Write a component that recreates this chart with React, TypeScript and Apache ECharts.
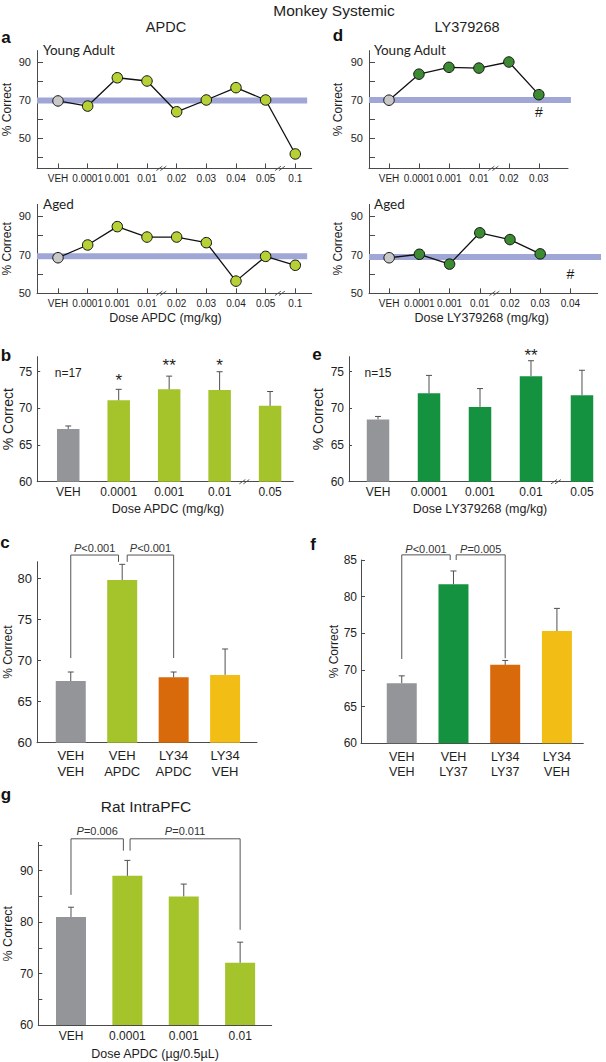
import React, { useEffect, useRef } from 'react';
import * as echarts from 'echarts';

// ---------------- data ----------------
const apdcLineDoses = ['VEH', '0.0001', '0.001', '0.01', '0.02', '0.03', '0.04', '0.05', '0.1'];
const apdcYoungAdult = [69.5, 66.8, 81.7, 80.0, 63.8, 70.0, 76.5, 70.0, 41.6];
const apdcAged = [68.4, 75.0, 84.5, 79.1, 79.1, 76.2, 56.3, 69.1, 64.5];
const apdcYoungBaseline = 69.7;
const apdcAgedBaseline = 69.2;

const lyLineDosesYoung = ['VEH', '0.0001', '0.001', '0.01', '0.02', '0.03'];
const lyLineDosesAged = ['VEH', '0.0001', '0.001', '0.01', '0.02', '0.03', '0.04'];
const lyYoungAdult = [69.9, 83.6, 87.2, 86.8, 90.0, 72.8];
const lyAged = [68.4, 70.2, 65.1, 81.3, 77.8, 70.4];
const lyYoungBaseline = 70.0;
const lyAgedBaseline = 68.8;
const lyYoungHash = [{ x: 5, y: 63.8, text: '#' }];
const lyAgedHash = [{ x: 6, y: 60.0, text: '#' }];

const lineYTicksYoung = [40, 50, 60, 70, 80, 90];
const lineYTicksAged = [50, 60, 70, 80, 90];
const lineYLabels = [50, 70, 90];

const barDoses = ['VEH', '0.0001', '0.001', '0.01', '0.05'];
const apdcMeans = [67.2, 71.1, 72.6, 72.5, 70.35];
const apdcSem = [0.4, 1.5, 1.8, 2.5, 1.95];
const apdcStars = ['', '*', '**', '*', ''];
const apdcStarLevels = [0, 73.8, 75.9, 75.9, 0];
const apdcN = 'n=17';

const lyMeans = [68.5, 72.05, 70.2, 74.4, 71.8];
const lySem = [0.4, 2.45, 2.5, 2.1, 3.4];
const lyStars = ['', '', '', '**', ''];
const lyStarLevels = [0, 0, 0, 77.2, 0];
const lyN = 'n=15';
const nLevel = 74.86;

const barYTicksBE = [60, 65, 70, 75];

const cGroups = ['VEH\nVEH', 'VEH\nAPDC', 'LY34\nAPDC', 'LY34\nVEH'];
const cMeans = [67.5, 79.8, 67.95, 68.25];
const cSem = [1.1, 1.9, 0.65, 3.15];
const cBrackets = [
  { from: 0, to: 1, lowFrom: 70.3, lowTo: 82.0, top: 82.83, label: 'P<0.001' },
  { from: 1, to: 2, lowFrom: 82.0, lowTo: 70.3, top: 82.83, label: 'P<0.001' },
];
const cYTicks = [60, 65, 70, 75, 80];

const fGroups = ['VEH\nVEH', 'VEH\nLY37', 'LY34\nLY37', 'LY34\nVEH'];
const fMeans = [68.2, 81.7, 70.7, 75.3];
const fSem = [1.0, 1.8, 0.6, 3.1];
const fBrackets = [
  { from: 0, to: 1, lowFrom: 71.5, lowTo: 85.0, top: 85.7, label: 'P<0.001' },
  { from: 1, to: 2, lowFrom: 85.0, lowTo: 71.6, top: 85.7, label: 'P=0.005' },
];
const fYTicks = [60, 65, 70, 75, 80, 85];

const gDoses = ['VEH', '0.0001', '0.001', '0.01'];
const gMeans = [81.0, 89.0, 85.0, 72.1];
const gSem = [1.9, 3.0, 2.4, 4.0];
const gBrackets = [
  { from: 0, to: 1, lowFrom: 85.3, lowTo: 93.9, top: 96.2, label: 'P=0.006' },
  { from: 1, to: 3, lowFrom: 93.9, lowTo: 78.5, top: 96.2, label: 'P=0.011' },
];
const gYTicks = [60, 65, 70, 75, 80, 85, 90, 95];
const gYLabels = [60, 70, 80, 90];

// ---------------- styles ----------------
const FONT = "'Liberation Sans', Arial, sans-serif";
const CAL = "Lato, 'Open Sans', sans-serif";
const TXT = '#1e1e1e';
const AX = '#4a4a4a';
const ERR = '#505050';
const GRAY_BAR = '#939598';
const LGREEN_BAR = '#a5c32a';
const DGREEN_BAR = '#14923f';
const ORANGE = '#d86a0c';
const YELLOW = '#f2be16';
const LGREEN_DOT = '#b5d135';
const DGREEN_DOT = '#3c8a32';
const GRAY_DOT = '#c8c8c8';
const BAND = '#a0a6d5';

const GRIDS = [
  { left: 37, top: 50.6, width: 274.7, height: 117.8 }, // a young
  { left: 37, top: 204.4, width: 274.7, height: 88.9 }, // a aged
  { left: 369, top: 50.6, width: 199, height: 117.8 }, // d young
  { left: 369, top: 204.4, width: 228.6, height: 88.9 }, // d aged
  { left: 37, top: 356.7, width: 256.3, height: 125 }, // b
  { left: 349, top: 356.7, width: 244, height: 125 }, // e
  { left: 37, top: 561.7, width: 220, height: 181 }, // c
  { left: 361, top: 560, width: 222.3, height: 183.3 }, // f
  { left: 38.3, top: 842.4, width: 233.4, height: 182.6 }, // g
];

const cGaps = [[0, -3.7], [5, 0]];
const fGaps = [[0, -3.3], [2.7, 0]];
const gGaps = [[0, -4], [2.7, 0]];

function xAx(gi: number, min: number, max: number, labels: string[], fontSize: number, o: any) {
  const idx = labels.map((_, i) => i);
  return {
    type: 'value', gridIndex: gi, min, max,
    axisLine: { show: true, onZero: false, lineStyle: { color: AX, width: 1 } },
    axisTick: { show: !!o.ticks, inside: true, length: 5, customValues: idx, lineStyle: { color: AX } },
    axisLabel: {
      customValues: idx,
      formatter: (v: number) => labels[Math.round(v)] ?? '',
      fontSize, color: TXT, fontFamily: FONT, margin: o.margin ?? 5, lineHeight: o.lineHeight,
    },
    splitLine: { show: false },
  };
}

function yAx(gi: number, min: number, max: number, ticks: number[], labels: number[], fontSize: number,
  nameSize: number, nameGap: number, tickLen: number, margin: number) {
  return {
    type: 'value', gridIndex: gi, min, max,
    axisLine: { show: true, onZero: false, lineStyle: { color: AX, width: 1 } },
    axisTick: { show: true, inside: true, length: tickLen, customValues: ticks, lineStyle: { color: AX } },
    axisLabel: { customValues: labels, fontSize, color: TXT, fontFamily: FONT, margin },
    splitLine: { show: false },
    name: '% Correct', nameLocation: 'middle', nameRotate: 90, nameGap,
    nameTextStyle: { fontSize: nameSize, fontFamily: FONT, color: TXT },
  };
}

function bandSeries(gi: number, y: number, x0: number, x1: number) {
  return {
    type: 'line', xAxisIndex: gi, yAxisIndex: gi, data: [[x0, y], [x1, y]], symbol: 'none',
    lineStyle: { color: BAND, width: 6 }, z: 1, silent: true, clip: false,
  };
}

function lineSeries(gi: number, values: number[], dot: string) {
  return {
    type: 'line', xAxisIndex: gi, yAxisIndex: gi, z: 4, symbol: 'circle', symbolSize: 10.5,
    lineStyle: { color: '#111', width: 1.3 },
    itemStyle: { borderColor: '#111', borderWidth: 1 },
    data: values.map((v, i) => ({
      value: [i, v],
      itemStyle: { color: i === 0 ? GRAY_DOT : dot, borderColor: '#111', borderWidth: 1 },
    })),
  };
}

function breakSeries(gi: number, xs: number[], yMin: number) {
  return {
    type: 'custom', xAxisIndex: gi, yAxisIndex: gi, z: 5, silent: true,
    data: xs.map((x) => [x, yMin]),
    renderItem: (_p: any, api: any) => {
      const c = api.coord([api.value(0), api.value(1)]);
      const x = c[0], y = c[1];
      const st = { stroke: AX, lineWidth: 0.9 };
      return {
        type: 'group',
        children: [
          { type: 'line', shape: { x1: x - 5.5, y1: y + 2.2, x2: x + 0.5, y2: y - 2.2 }, style: st },
          { type: 'line', shape: { x1: x - 1.5, y1: y + 2.2, x2: x + 4.5, y2: y - 2.2 }, style: st },
        ],
      };
    },
  };
}

function barSeries(gi: number, means: number[], colors: string[], width: number) {
  return {
    type: 'bar', xAxisIndex: gi, yAxisIndex: gi, barWidth: width, z: 2,
    data: means.map((m, i) => ({ value: [i, m], itemStyle: { color: colors[i] } })),
  };
}

function errSeries(gi: number, means: number[], sems: number[]) {
  return {
    type: 'custom', xAxisIndex: gi, yAxisIndex: gi, z: 3, silent: true,
    data: means.map((m, i) => [i, m, m + sems[i]]),
    renderItem: (_p: any, api: any) => {
      const a = api.coord([api.value(0), api.value(1)]);
      const b = api.coord([api.value(0), api.value(2)]);
      const st = { stroke: ERR, lineWidth: 1 };
      return {
        type: 'group',
        children: [
          { type: 'line', shape: { x1: a[0], y1: a[1], x2: b[0], y2: b[1] }, style: st },
          { type: 'line', shape: { x1: b[0] - 3, y1: b[1], x2: b[0] + 3, y2: b[1] }, style: st },
        ],
      };
    },
  };
}

function textSeries(gi: number, items: { x: number; y: number; text: string; size: number }[]) {
  return {
    type: 'custom', xAxisIndex: gi, yAxisIndex: gi, z: 6, silent: true,
    data: items.map((it) => [it.x, it.y]),
    renderItem: (p: any, api: any) => {
      const it = items[p.dataIndex];
      const c = api.coord([api.value(0), api.value(1)]);
      return {
        type: 'text', x: c[0], y: c[1],
        style: { text: it.text, fontSize: it.size, fontFamily: FONT, fill: TXT, align: 'center', verticalAlign: 'middle' },
      };
    },
  };
}

function bracketSeries(gi: number, brackets: any[], gaps: number[][], labelGap: number) {
  return {
    type: 'custom', xAxisIndex: gi, yAxisIndex: gi, z: 6, silent: true,
    data: brackets.map((b) => [b.from, b.to, b.lowFrom, b.lowTo, b.top]),
    renderItem: (p: any, api: any) => {
      const b = brackets[p.dataIndex];
      const g = gaps[p.dataIndex];
      const a = api.coord([api.value(0), api.value(2)]);
      const c = api.coord([api.value(1), api.value(3)]);
      const t = api.coord([api.value(0), api.value(4)])[1];
      const x1 = a[0] + g[0];
      const x2 = c[0] + g[1];
      const rest = b.label.slice(1);
      return {
        type: 'group',
        children: [
          {
            type: 'polyline',
            shape: { points: [[x1, a[1]], [x1, t], [x2, t], [x2, c[1]]] },
            style: { stroke: '#555', lineWidth: 1, fill: null },
          },
          {
            type: 'text', x: (x1 + x2) / 2, y: t - labelGap,
            style: {
              text: '{i|P}' + rest, fontSize: 11, fontFamily: FONT, fill: '#333',
              align: 'center', verticalAlign: 'middle',
              rich: { i: { fontStyle: 'italic', fontSize: 11, fontFamily: FONT, fill: '#333' } },
            },
          },
        ],
      };
    },
  };
}

function gText(text: string, x: number, y: number, size: number, extra: any = {}) {
  return {
    type: 'text', x, y, silent: true,
    style: {
      text, fontSize: size, fontFamily: FONT, fill: TXT,
      textAlign: 'center', align: 'center', textVerticalAlign: 'middle', verticalAlign: 'middle',
      ...extra,
    },
  };
}

function buildOption() {
  const grid = GRIDS.map((g) => ({ ...g, containLabel: false }));
  const xAxis = [
    xAx(0, -0.708, 8.553, apdcLineDoses, 10, { ticks: true, margin: 5 }),
    xAx(1, -0.708, 8.553, apdcLineDoses, 10, { ticks: true, margin: 5 }),
    xAx(2, -0.667, 5.973, lyLineDosesYoung, 10, { ticks: true, margin: 5 }),
    xAx(3, -0.667, 6.9, lyLineDosesAged, 10, { ticks: true, margin: 5 }),
    xAx(4, -0.614, 4.46, barDoses, 12, { margin: 4 }),
    xAx(5, -0.569, 4.216, barDoses, 12, { margin: 4 }),
    xAx(6, -0.656, 3.62, cGroups, 13, { margin: 5, lineHeight: 15.6 }),
    xAx(7, -0.788, 3.51, fGroups, 12.5, { margin: 6, lineHeight: 15 }),
    xAx(8, -0.58, 3.56, gDoses, 12, { margin: 5 }),
  ];
  const yAxis = [
    yAx(0, 34, 96, lineYTicksYoung, lineYLabels, 11, 12, 24, 6, 6),
    yAx(1, 50, 96, lineYTicksAged, lineYLabels, 11, 12, 24, 6, 6),
    yAx(2, 34, 96, lineYTicksYoung, lineYLabels, 11, 12, 25, 6, 6),
    yAx(3, 50, 96, lineYTicksAged, lineYLabels, 11, 12, 25, 6, 6),
    yAx(4, 60, 77.05, barYTicksBE, barYTicksBE, 12, 14, 22, 3, 5),
    yAx(5, 60, 77.05, barYTicksBE, barYTicksBE, 12, 14, 24, 3, 5),
    yAx(6, 60, 82.02, cYTicks, cYTicks, 13, 12, 22.5, 4, 5),
    yAx(7, 60, 85, fYTicks, fYTicks, 12, 12, 16, 4, 4),
    yAx(8, 60, 95.5, gYTicks, gYLabels, 12, 12.5, 24, 4, 5),
  ];

  const starItems = (stars: string[], levels: number[], n: string) => [
    ...stars.map((s, i) => ({ x: i, y: levels[i], text: s, size: 17 })).filter((it) => it.text),
    { x: 0, y: nLevel, text: n, size: 12 },
  ];

  const series: any[] = [
    bandSeries(0, apdcYoungBaseline, -0.708, 8.4),
    lineSeries(0, apdcYoungAdult, LGREEN_DOT),
    breakSeries(0, [3.5, 7.5], 34),
    bandSeries(1, apdcAgedBaseline, -0.708, 8.4),
    lineSeries(1, apdcAged, LGREEN_DOT),
    breakSeries(1, [3.5, 7.5], 50),
    bandSeries(2, lyYoungBaseline, -0.667, 6.07),
    lineSeries(2, lyYoungAdult, DGREEN_DOT),
    breakSeries(2, [3.5], 34),
    textSeries(2, lyYoungHash.map((h) => ({ ...h, size: 14 }))),
    bandSeries(3, lyAgedBaseline, -0.667, 7.05),
    lineSeries(3, lyAged, DGREEN_DOT),
    breakSeries(3, [3.5], 50),
    textSeries(3, lyAgedHash.map((h) => ({ ...h, size: 14 }))),
    barSeries(4, apdcMeans, [GRAY_BAR, LGREEN_BAR, LGREEN_BAR, LGREEN_BAR, LGREEN_BAR], 22.5),
    errSeries(4, apdcMeans, apdcSem),
    breakSeries(4, [3.5], 60),
    textSeries(4, starItems(apdcStars, apdcStarLevels, apdcN)),
    barSeries(5, lyMeans, [GRAY_BAR, DGREEN_BAR, DGREEN_BAR, DGREEN_BAR, DGREEN_BAR], 22.5),
    errSeries(5, lyMeans, lySem),
    breakSeries(5, [3.5], 60),
    textSeries(5, starItems(lyStars, lyStarLevels, lyN)),
    barSeries(6, cMeans, [GRAY_BAR, LGREEN_BAR, ORANGE, YELLOW], 30),
    errSeries(6, cMeans, cSem),
    bracketSeries(6, cBrackets, cGaps, 7.5),
    barSeries(7, fMeans, [GRAY_BAR, DGREEN_BAR, ORANGE, YELLOW], 30),
    errSeries(7, fMeans, fSem),
    bracketSeries(7, fBrackets, fGaps, 6),
    barSeries(8, gMeans, [GRAY_BAR, LGREEN_BAR, LGREEN_BAR, LGREEN_BAR], 30),
    errSeries(8, gMeans, gSem),
    bracketSeries(8, gBrackets, gGaps, 7.3),
  ];

  const letter = (t: string, x: number, y: number) => gText(t, x, y, 17, { fontWeight: 'bold', fill: '#111' });
  const sub = (t: string, x: number, y: number) =>
    gText(t, x, y, 13.5, { fontFamily: CAL, textAlign: 'left', align: 'left' });

  const graphic = [
    gText('Monkey Systemic', 334, 10, 15.5),
    gText('APDC', 166, 27, 14.5),
    gText('LY379268', 467, 27, 14.5),
    letter('a', 6, 37),
    letter('d', 338, 35),
    letter('b', 6, 355),
    letter('e', 317, 354.5),
    letter('c', 5, 542.5),
    letter('f', 313, 544),
    letter('g', 6, 794),
    sub('Young Adult', 43, 49.5),
    sub('Aged', 43, 204),
    sub('Young Adult', 374, 49.5),
    sub('Aged', 374, 204),
    gText('Dose APDC (mg/kg)', 165.5, 318.3, 12.5),
    gText('Dose LY379268 (mg/kg)', 481.7, 318, 12.5),
    gText('Dose APDC (mg/kg)', 168, 509.3, 12.5),
    gText('Dose LY379268 (mg/kg)', 480, 509, 12.5),
    gText('Rat IntraPFC', 146, 806, 15.5),
    gText('Dose APDC (µg/0.5µL)', 155, 1053.5, 12.5),
  ];

  return {
    animation: false,
    backgroundColor: '#ffffff',
    textStyle: { fontFamily: FONT },
    grid, xAxis, yAxis, series, graphic,
  };
}

export default function App() {
  const ref = useRef<HTMLDivElement>(null);
  useEffect(() => {
    if (!ref.current) return;
    const chart = echarts.init(ref.current, null, { renderer: 'svg' });
    chart.setOption(buildOption() as any);
    return () => chart.dispose();
  }, []);
  return (
    <div
      ref={ref}
      style={{ position: 'fixed', left: 0, top: 0, width: 606, height: 1062, background: '#fff' }}
    />
  );
}
